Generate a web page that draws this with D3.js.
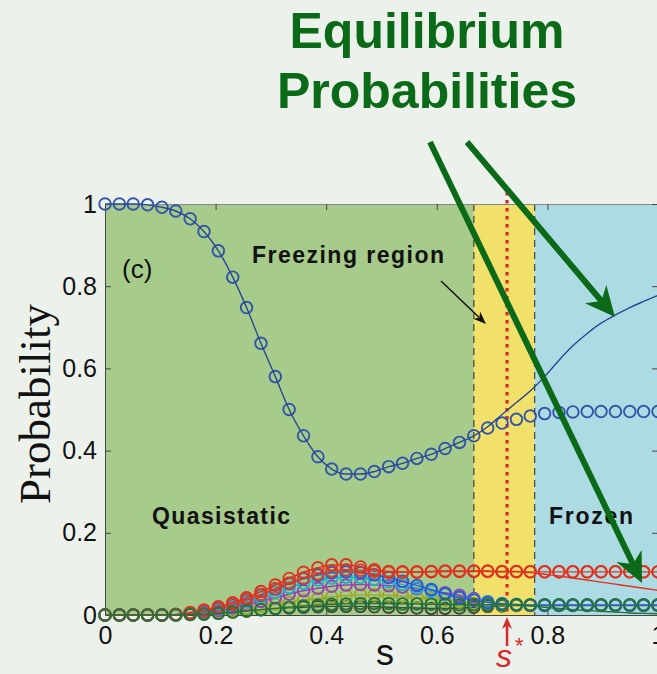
<!DOCTYPE html>
<html>
<head>
<meta charset="utf-8">
<script src="https://cdn.jsdelivr.net/npm/d3@7"></script>
<style>
  body { margin: 0; background: #edf1ec; }
  svg { display: block; }
</style>
</head>
<body>
<svg id="chart" width="657" height="674"></svg>
<script>
// annealing parameter s, 40 samples
const sValues = [0.000,0.026,0.051,0.077,0.103,0.128,0.154,0.179,0.205,0.231,
  0.256,0.282,0.308,0.333,0.359,0.385,0.410,0.436,0.462,0.487,
  0.513,0.538,0.564,0.590,0.615,0.641,0.667,0.692,0.718,0.744,
  0.769,0.795,0.821,0.846,0.872,0.897,0.923,0.949,0.974,1.000];

const xTicks = [0, 0.2, 0.4, 0.6, 0.8, 1];
const xTickLabels = ["0", "0.2", "0.4", "0.6", "0.8", "1"];
const yTicks = [0, 0.2, 0.4, 0.6, 0.8, 1];
const yTickLabels = ["0", "0.2", "0.4", "0.6", "0.8", "1"];

// regions along s
const regionNames = ["quasistatic", "freezing", "frozen"];
const regionStart = [0, 0.667, 0.777];
const regionEnd = [0.667, 0.777, 1];
const sStar = 0.727;

// ground state: circles = instantaneous, line = equilibrium
const groundMarkers = [1.000,1.000,1.000,0.998,0.992,0.983,0.964,0.933,0.886,0.822,
  0.748,0.661,0.580,0.500,0.436,0.385,0.355,0.343,0.343,0.349,
  0.361,0.369,0.381,0.391,0.405,0.420,0.436,0.455,0.467,0.476,
  0.484,0.490,0.493,0.494,0.495,0.495,0.495,0.495,0.495,0.495];
const groundLine = [1.000,1.000,1.000,0.998,0.992,0.983,0.964,0.933,0.886,0.822,
  0.748,0.661,0.580,0.500,0.436,0.385,0.355,0.343,0.343,0.349,
  0.361,0.369,0.381,0.391,0.405,0.420,0.436,0.458,0.488,0.517,
  0.545,0.580,0.620,0.655,0.685,0.710,0.730,0.748,0.763,0.778];

// excited states
const darkMarkers = [0,0,0,0,0,0,0.001,0.003,0.005,0.008,
  0.010,0.013,0.015,0.017,0.019,0.020,0.021,0.021,0.021,0.020,
  0.019,0.018,0.017,0.016,0.016,0.017,0.019,0.021,0.022,0.023,
  0.023,0.023,0.023,0.023,0.023,0.023,0.023,0.023,0.023,0.023];
const oliveMarkers = [0,0,0,0,0,0,0.002,0.004,0.007,0.011,
  0.016,0.021,0.026,0.031,0.036,0.040,0.044,0.047,0.049,0.049,
  0.048,0.046,0.043,0.040,0.036,0.032,0.028,0.025,0.024,0.023,
  0.023,0.023,0.023,0.023,0.023,0.023,0.023,0.023,0.023,0.023];
const purpleMarkers = [0,0,0,0,0,0.001,0.003,0.006,0.011,0.017,
  0.025,0.033,0.042,0.051,0.059,0.065,0.070,0.073,0.074,0.073,
  0.071,0.068,0.064,0.059,0.054,0.048,0.040,0.032,0.027,0.025,
  0.024,0.024,0.024,0.024,0.024,0.024,0.024,0.024,0.024,0.024];
const cyanMarkers = [0,0,0,0,0,0.001,0.004,0.008,0.014,0.022,
  0.032,0.043,0.055,0.067,0.077,0.085,0.090,0.092,0.091,0.087,
  0.081,0.074,0.066,0.058,0.050,0.043,0.037,0.032,0.028,0.026,
  0.024,0.024,0.024,0.024,0.024,0.024,0.024,0.024,0.024,0.024];
const blueMarkers = [0,0,0,0,0,0.001,0.004,0.009,0.016,0.025,
  0.036,0.049,0.063,0.076,0.088,0.097,0.103,0.105,0.103,0.098,
  0.091,0.082,0.072,0.062,0.052,0.043,0.036,0.030,0.027,0.025,
  0.024,0.024,0.024,0.024,0.024,0.024,0.024,0.024,0.024,0.024];
const orangeMarkers = [0,0,0,0,0,0.001,0.005,0.010,0.017,0.026,
  0.037,0.050,0.064,0.078,0.090,0.100,0.107,0.110,0.109,0.106,
  0.104,0.104,0.104,0.105,0.106,0.106,0.106,0.106,0.105,0.105,
  0.105,0.105,0.105,0.105,0.105,0.105,0.105,0.105,0.105,0.105];
const redMarkers = [0,0,0,0,0,0.001,0.006,0.012,0.020,0.030,
  0.042,0.057,0.073,0.089,0.104,0.115,0.122,0.122,0.117,0.110,
  0.106,0.105,0.105,0.106,0.107,0.107,0.107,0.107,0.106,0.106,
  0.105,0.105,0.105,0.105,0.105,0.105,0.105,0.105,0.105,0.105];
const redLine = [0,0,0,0,0,0.001,0.006,0.012,0.020,0.030,
  0.042,0.057,0.073,0.089,0.104,0.115,0.122,0.122,0.117,0.110,
  0.106,0.105,0.105,0.106,0.107,0.107,0.107,0.107,0.106,0.106,
  0.103,0.099,0.095,0.090,0.085,0.080,0.075,0.070,0.065,0.060];
const greenMarkers = [0,0,0,0,0,0,0.001,0.002,0.004,0.007,
  0.010,0.013,0.016,0.019,0.022,0.024,0.026,0.027,0.028,0.028,
  0.028,0.027,0.027,0.026,0.026,0.025,0.025,0.025,0.025,0.025,
  0.025,0.025,0.025,0.025,0.025,0.025,0.025,0.025,0.025,0.025];
const greenLine = [0,0,0,0,0,0,0.001,0.002,0.004,0.007,
  0.010,0.013,0.016,0.019,0.022,0.024,0.026,0.027,0.028,0.028,
  0.028,0.027,0.027,0.026,0.026,0.025,0.025,0.025,0.025,0.025,
  0.022,0.019,0.016,0.013,0.011,0.009,0.007,0.005,0.004,0.003];

const seriesList = [
  { name: "dark", markers: darkMarkers, line: darkMarkers, color: "#3f4c33" },
  { name: "olive", markers: oliveMarkers, line: oliveMarkers, color: "#9aa92c" },
  { name: "purple", markers: purpleMarkers, line: purpleMarkers, color: "#9a3fb3" },
  { name: "cyan", markers: cyanMarkers, line: cyanMarkers, color: "#1fb2c9" },
  { name: "blue", markers: blueMarkers, line: blueMarkers, color: "#2f56d2" },
  { name: "orange", markers: orangeMarkers, line: orangeMarkers, color: "#d2452a" },
  { name: "red", markers: redMarkers, line: redLine, color: "#e2301f" },
  { name: "green", markers: greenMarkers, line: greenLine, color: "#23733a" },
  { name: "ground", markers: groundMarkers, line: groundLine, color: "#3456a8", lineColor: "#2b4893" }
];

const regionColors = { quasistatic: "#a6cb8b", freezing: "#f1e06a", frozen: "#acdbe4" };

const svg = d3.select("#chart");

const x = d3.scaleLinear().domain([0, 1]).range([105, 658]);
const y = d3.scaleLinear().domain([0, 1]).range([615, 204]);

svg.append("defs").append("clipPath").attr("id", "plotClip")
  .append("rect").attr("x", 98).attr("y", 196).attr("width", 570).attr("height", 426);

// background regions
svg.append("g").selectAll("rect")
  .data(regionNames)
  .join("rect")
  .attr("x", (d, i) => x(regionStart[i]))
  .attr("width", (d, i) => x(regionEnd[i]) - x(regionStart[i]))
  .attr("y", y(1))
  .attr("height", y(0) - y(1))
  .attr("fill", d => regionColors[d]);

// region boundaries
svg.append("g").selectAll("line")
  .data([regionEnd[0], regionEnd[1]])
  .join("line")
  .attr("x1", d => x(d)).attr("x2", d => x(d))
  .attr("y1", y(1)).attr("y2", y(0))
  .attr("stroke", "#333").attr("stroke-width", 1.1)
  .attr("stroke-dasharray", "7,5");

// s* dotted line
svg.append("line")
  .attr("x1", x(sStar)).attr("x2", x(sStar))
  .attr("y1", y(1) - 12).attr("y2", y(0))
  .attr("stroke", "#d8282a").attr("stroke-width", 3.2)
  .attr("stroke-dasharray", "3.5,4.5");

// axes
const axisColor = "#444";
function styleAxis(g) {
  g.select(".domain").attr("stroke", axisColor);
  g.selectAll(".tick line").attr("stroke", axisColor);
  g.selectAll("text")
    .attr("font-family", "'Liberation Sans', Arial, sans-serif")
    .attr("font-size", 25)
    .attr("fill", "#111");
}

svg.append("g")
  .attr("transform", `translate(0,${y(0)})`)
  .call(d3.axisBottom(x).tickValues(xTicks).tickFormat((d, i) => xTickLabels[i])
    .tickSizeInner(-6).tickSizeOuter(0).tickPadding(11))
  .call(styleAxis);

svg.append("g")
  .attr("transform", `translate(${x(0)},0)`)
  .call(d3.axisLeft(y).tickValues(yTicks).tickFormat((d, i) => yTickLabels[i])
    .tickSizeInner(-6).tickSizeOuter(0).tickPadding(8))
  .call(styleAxis);

svg.append("g")
  .attr("transform", `translate(0,${y(1)})`)
  .call(d3.axisTop(x).tickValues(xTicks).tickFormat("").tickSizeInner(-6).tickSizeOuter(0))
  .call(styleAxis)
  .select(".domain").attr("stroke", "#888");

svg.append("g")
  .attr("transform", `translate(${x(1)},0)`)
  .call(d3.axisRight(y).tickValues(yTicks).tickFormat("").tickSizeInner(-6).tickSizeOuter(0))
  .call(styleAxis);

// series
const plot = svg.append("g").attr("clip-path", "url(#plotClip)");
const lineGen = d3.line()
  .x((d, i) => x(sValues[i]))
  .y(d => y(d))
  .curve(d3.curveMonotoneX);

seriesList.forEach(ser => {
  const g = plot.append("g").attr("class", "series-" + ser.name);
  g.selectAll("circle")
    .data(ser.markers)
    .join("circle")
    .attr("cx", (d, i) => x(sValues[i]))
    .attr("cy", d => y(d))
    .attr("r", 5.8)
    .attr("fill", "none")
    .attr("stroke", ser.color)
    .attr("stroke-width", 1.9);
  g.append("path")
    .datum(ser.line)
    .attr("d", lineGen)
    .attr("fill", "none")
    .attr("stroke", ser.lineColor || ser.color)
    .attr("stroke-width", 1.4);
});

// annotations
const sans = "'Liberation Sans', Arial, Helvetica, sans-serif";

svg.append("text").attr("x", 122).attr("y", 278)
  .attr("font-family", sans).attr("font-size", 26).attr("fill", "#111").text("(c)");

svg.append("text").attr("x", 252).attr("y", 263)
  .attr("font-family", sans).attr("font-size", 23).attr("font-weight", "bold")
  .attr("fill", "#111").attr("textLength", 192).text("Freezing region");

svg.append("text").attr("x", 152).attr("y", 524)
  .attr("font-family", sans).attr("font-size", 23).attr("font-weight", "bold")
  .attr("fill", "#111").attr("textLength", 138).text("Quasistatic");

svg.append("text").attr("x", 549).attr("y", 524)
  .attr("font-family", sans).attr("font-size", 23).attr("font-weight", "bold")
  .attr("fill", "#111").attr("textLength", 84).text("Frozen");

function arrow(x1, y1, x2, y2, color, width, headLen, headW) {
  const ang = Math.atan2(y2 - y1, x2 - x1);
  const bx = x2 - headLen * Math.cos(ang), by = y2 - headLen * Math.sin(ang);
  const px = Math.sin(ang) * headW / 2, py = -Math.cos(ang) * headW / 2;
  const nx = bx + 0.3 * headLen * Math.cos(ang), ny = by + 0.3 * headLen * Math.sin(ang);
  svg.append("line")
    .attr("x1", x1).attr("y1", y1).attr("x2", nx).attr("y2", ny)
    .attr("stroke", color).attr("stroke-width", width);
  svg.append("path")
    .attr("d", `M${x2},${y2}L${bx + px},${by + py}L${nx},${ny}L${bx - px},${by - py}Z`)
    .attr("fill", color);
}

// arrow from "Freezing region"
arrow(441, 281, 486, 324, "#111", 1.5, 13, 10);

// title
svg.append("text").attr("x", 427).attr("y", 48).attr("text-anchor", "middle")
  .attr("font-family", sans).attr("font-size", 50).attr("font-weight", "bold")
  .attr("fill", "#0b6a18").text("Equilibrium");
svg.append("text").attr("x", 427).attr("y", 108).attr("text-anchor", "middle")
  .attr("font-family", sans).attr("font-size", 50).attr("font-weight", "bold")
  .attr("fill", "#0b6a18").text("Probabilities");

// green pointer arrows
arrow(430, 142, 642, 583, "#0b6a18", 6, 30, 28);
arrow(467, 142, 615, 317, "#0b6a18", 6, 30, 28);

// axis titles
svg.append("text")
  .attr("transform", "translate(50,404) rotate(-90)")
  .attr("text-anchor", "middle")
  .attr("font-family", "'Liberation Serif', 'Times New Roman', serif")
  .attr("font-size", 45).attr("fill", "#111").text("Probability");

svg.append("text").attr("x", 385).attr("y", 665).attr("text-anchor", "middle")
  .attr("font-family", sans).attr("font-size", 36).attr("fill", "#111").text("s");

// s* marker
arrow(x(sStar), 646, x(sStar), 617, "#d8282a", 2.5, 12, 10);
const sStarLabel = svg.append("text").attr("x", x(sStar) - 11).attr("y", 667)
  .attr("font-family", sans).attr("font-size", 32).attr("font-style", "italic")
  .attr("fill", "#d8282a");
sStarLabel.append("tspan").text("s");
sStarLabel.append("tspan").attr("dx", 2).attr("dy", -14).attr("font-size", 22).text("*");
</script>
</body>
</html>
